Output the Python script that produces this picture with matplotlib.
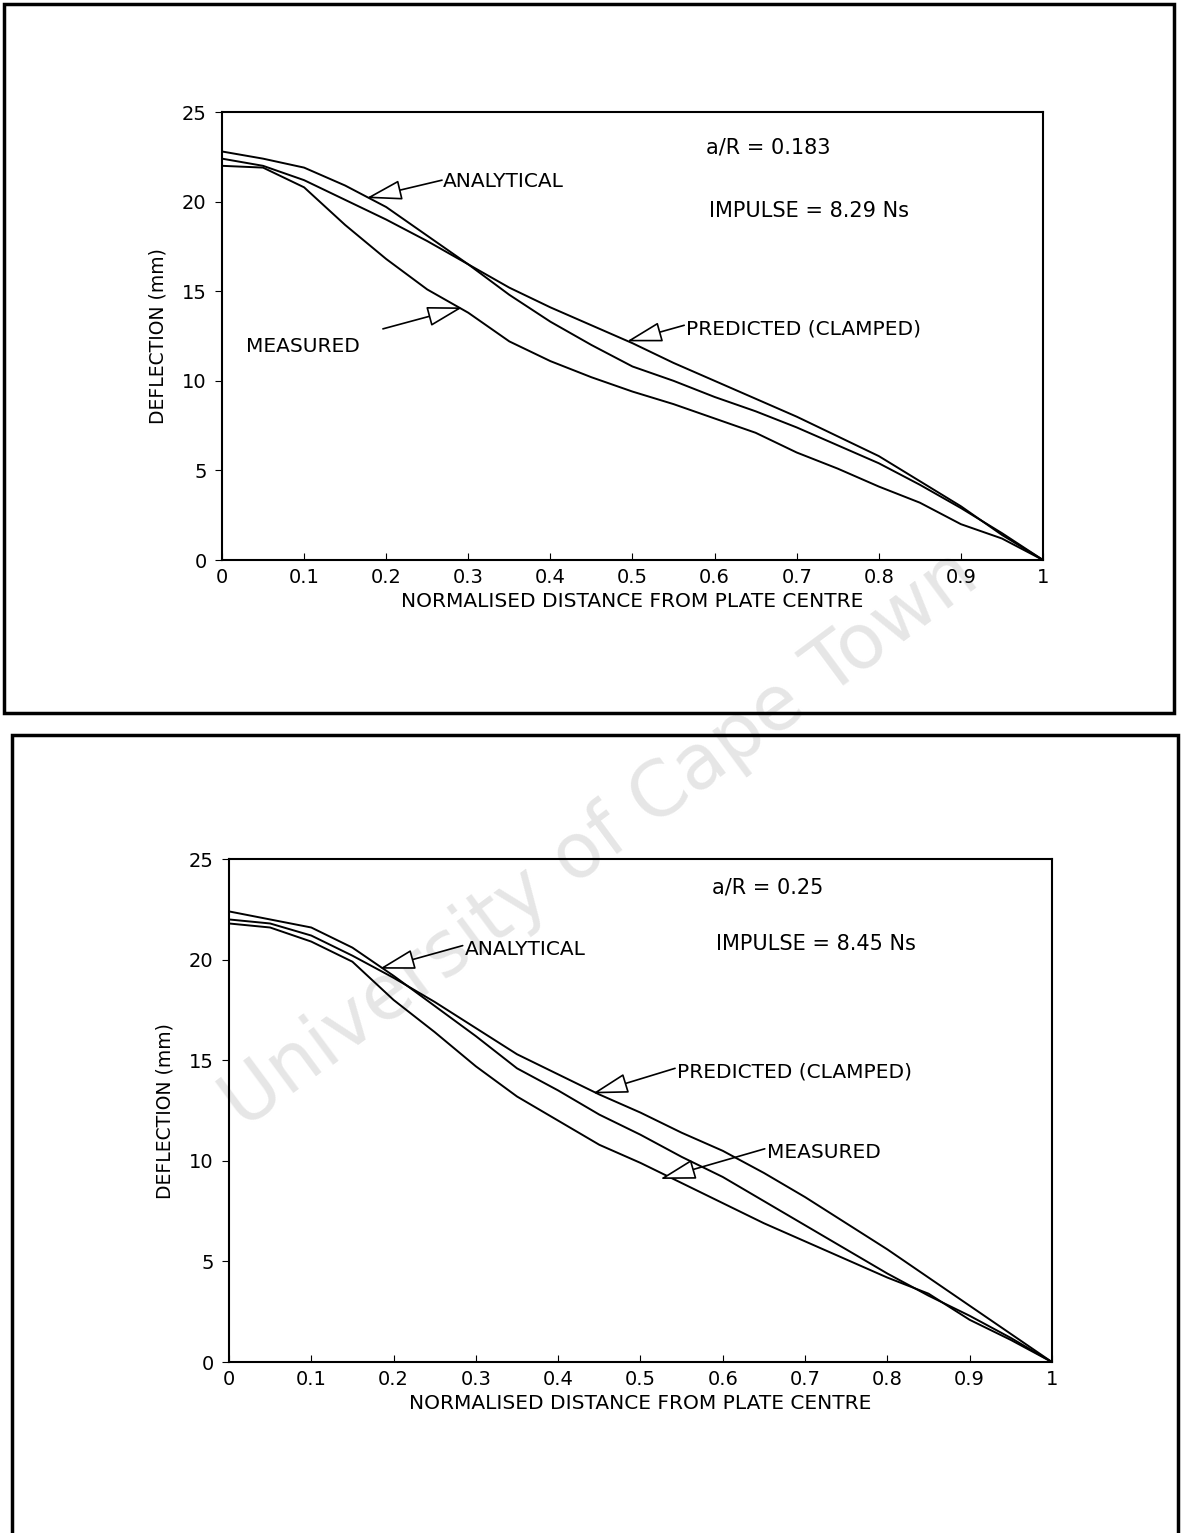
import numpy as np
import matplotlib
matplotlib.use('Agg')
import matplotlib.pyplot as plt
from matplotlib.patches import Rectangle

# normalised radial position
r = [0, 0.05, 0.1, 0.15, 0.2, 0.25, 0.3, 0.35, 0.4, 0.45, 0.5,
     0.55, 0.6, 0.65, 0.7, 0.75, 0.8, 0.85, 0.9, 0.95, 1.0]

# a/R = 0.183, impulse 8.29 Ns
analytical_1 = [22.8, 22.4, 21.9, 20.9, 19.7, 18.1, 16.5, 14.8, 13.3, 12.0, 10.8,
                10.0, 9.1, 8.3, 7.4, 6.4, 5.4, 4.2, 2.9, 1.5, 0.0]
predicted_1 = [22.4, 22.0, 21.2, 20.1, 19.0, 17.8, 16.5, 15.2, 14.1, 13.1, 12.1,
               11.0, 10.0, 9.0, 8.0, 6.9, 5.8, 4.4, 3.0, 1.4, 0.0]
measured_1 = [22.0, 21.9, 20.8, 18.7, 16.8, 15.1, 13.8, 12.2, 11.1, 10.2, 9.4,
              8.7, 7.9, 7.1, 6.0, 5.1, 4.1, 3.2, 2.0, 1.2, 0.0]

# a/R = 0.25, impulse 8.45 Ns
analytical_2 = [22.4, 22.0, 21.6, 20.6, 19.2, 17.7, 16.2, 14.6, 13.5, 12.3, 11.3,
                10.2, 9.2, 8.0, 6.8, 5.6, 4.4, 3.3, 2.3, 1.2, 0.0]
predicted_2 = [22.0, 21.8, 21.2, 20.2, 19.1, 17.9, 16.6, 15.3, 14.3, 13.3, 12.4,
               11.4, 10.5, 9.4, 8.2, 6.9, 5.6, 4.2, 2.8, 1.4, 0.0]
measured_2 = [21.8, 21.6, 20.9, 19.9, 18.0, 16.4, 14.7, 13.2, 12.0, 10.8, 9.9,
              8.9, 7.9, 6.9, 6.0, 5.1, 4.2, 3.4, 2.1, 1.1, 0.0]

xticks = [0, 0.1, 0.2, 0.3, 0.4, 0.5, 0.6, 0.7, 0.8, 0.9, 1]
xticklabels = ['0', '0.1', '0.2', '0.3', '0.4', '0.5', '0.6', '0.7', '0.8', '0.9', '1']
yticks = [0, 5, 10, 15, 20, 25]

plt.rcParams['font.family'] = 'DejaVu Sans'
fig = plt.figure(figsize=(11.82, 15.33), dpi=100)

# outer frames around each plot
fig.patches.append(Rectangle((4 / 1182, 1 - 713 / 1533), 1170 / 1182, 709 / 1533,
                             transform=fig.transFigure, fill=False, lw=2.5, ec='black'))
fig.patches.append(Rectangle((12 / 1182, -0.01), 1166 / 1182, 1 - 735 / 1533 + 0.01,
                             transform=fig.transFigure, fill=False, lw=2.5, ec='black'))

fig.text(0.508, 0.452, 'University of Cape Town', rotation=36.5, fontsize=55,
         color='#e6e6e6', ha='center', va='center', zorder=-1)

arrow = dict(arrowstyle='-|>,head_length=1.6,head_width=0.45', fc='white', ec='black',
             lw=1.2, shrinkA=0, shrinkB=0, mutation_scale=14)


def panel(rect, series, notes, labels):
    ax = fig.add_axes(rect)
    ax.set_facecolor('none')
    for vals in series:
        ax.plot(r, vals, color='black', lw=1.4)
    ax.set_xlim(0, 1)
    ax.set_ylim(0, 25)
    ax.set_xticks(xticks)
    ax.set_xticklabels(xticklabels)
    ax.set_yticks(yticks)
    ax.tick_params(axis='x', direction='in', length=5, labelsize=14, pad=6)
    ax.tick_params(axis='y', direction='out', length=5, labelsize=14, pad=6)
    for s in ax.spines.values():
        s.set_linewidth(1.5)
    ax.set_xlabel('NORMALISED DISTANCE FROM PLATE CENTRE', fontsize=14.5, labelpad=3)
    ax.set_ylabel('DEFLECTION (mm)', fontsize=13.5, labelpad=10)
    for x, y, s in notes:
        ax.text(x, y, s, fontsize=15, ha='left', va='center')
    for text, txy, tail, tip in labels:
        ax.text(txy[0], txy[1], text, fontsize=14.5, ha='left', va='center')
        ax.annotate('', xy=tip, xytext=tail, arrowprops=arrow)
    return ax


panel([0.1878, 0.6347, 0.6946, 0.2922],
      [analytical_1, predicted_1, measured_1],
      [(0.589, 23.0, 'a/R = 0.183'), (0.593, 19.5, 'IMPULSE = 8.29 Ns')],
      [('ANALYTICAL', (0.269, 21.1), (0.268, 21.2), (0.176, 20.2)),
       ('MEASURED', (0.029, 11.9), (0.196, 12.9), (0.293, 14.1)),
       ('PREDICTED (CLAMPED)', (0.565, 12.9), (0.563, 13.1), (0.493, 12.2))])

panel([0.1937, 0.1115, 0.6963, 0.3281],
      [analytical_2, predicted_2, measured_2],
      [(0.587, 23.6, 'a/R = 0.25'), (0.592, 20.8, 'IMPULSE = 8.45 Ns')],
      [('ANALYTICAL', (0.287, 20.5), (0.284, 20.7), (0.183, 19.55)),
       ('PREDICTED (CLAMPED)', (0.544, 14.4), (0.542, 14.6), (0.442, 13.35)),
       ('MEASURED', (0.654, 10.4), (0.651, 10.6), (0.524, 9.1))])

fig.savefig('out.png', dpi=100)
